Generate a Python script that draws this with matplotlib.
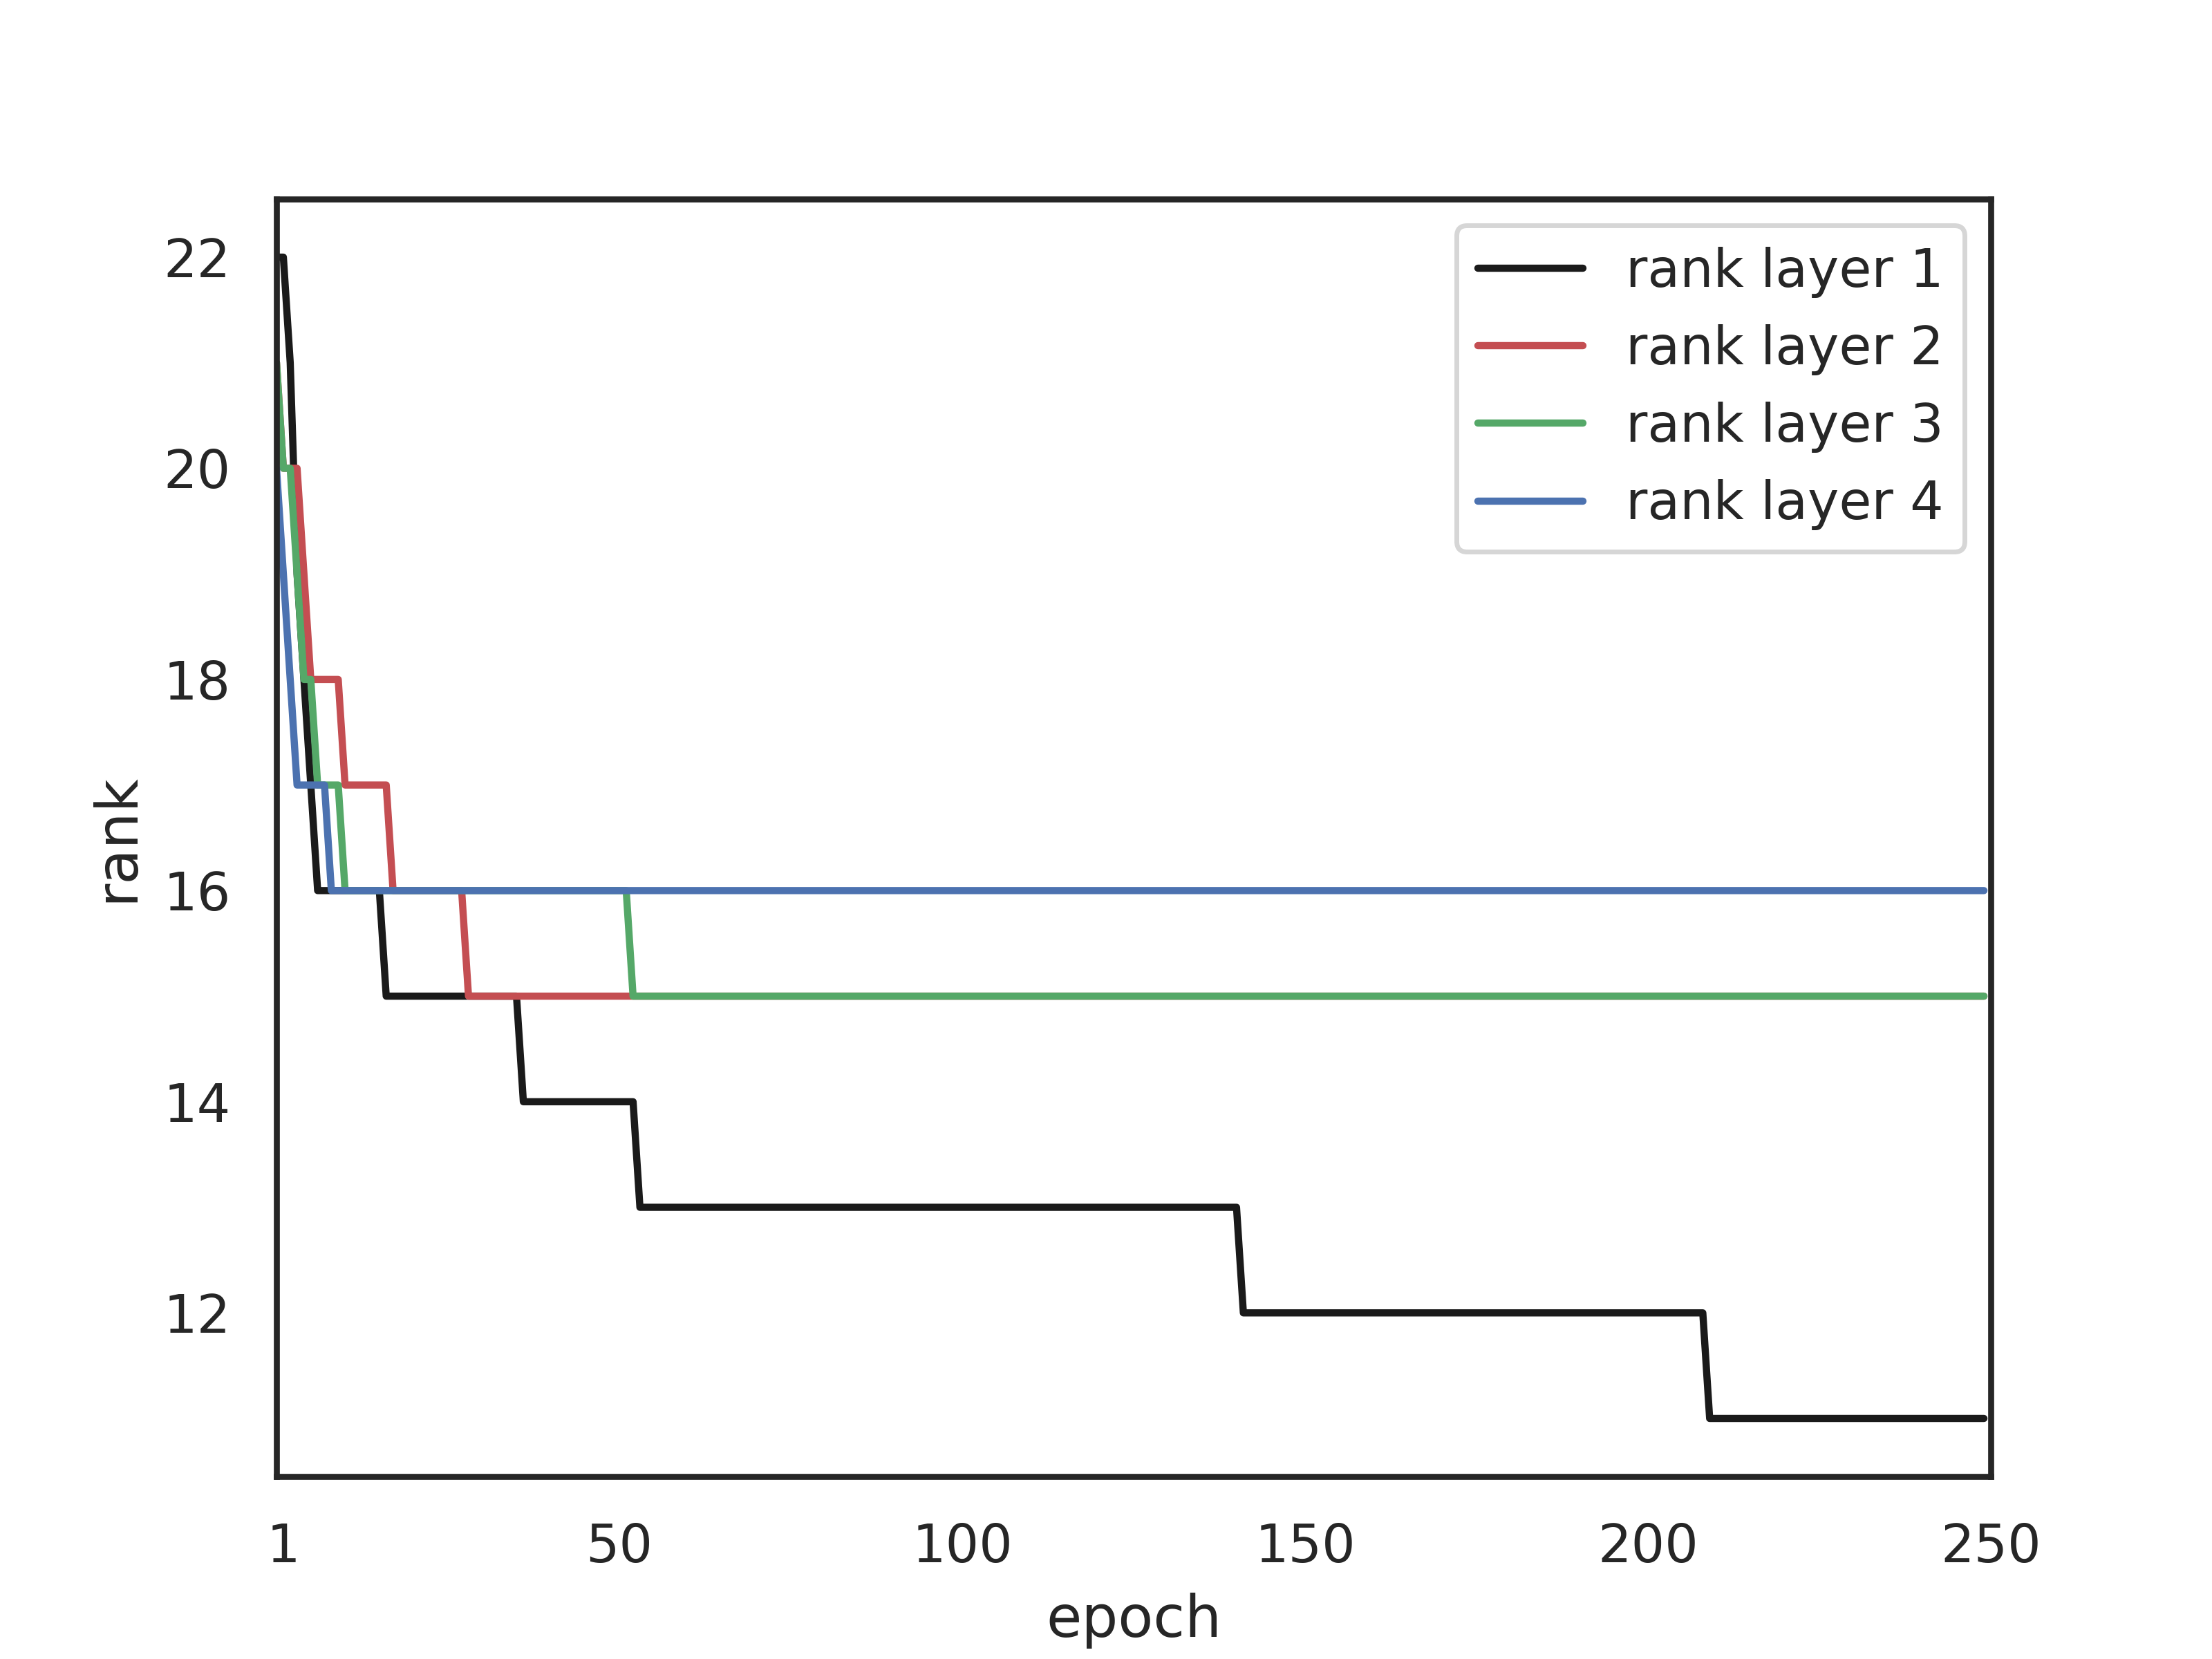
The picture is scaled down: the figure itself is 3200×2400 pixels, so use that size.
import numpy as np
import matplotlib
matplotlib.use("Agg")
import matplotlib.pyplot as plt
import seaborn as sns

# === Data: rank per epoch, stored as (value, run length) steps ===
n_epochs = 250

black_vals = [22, 21, 19, 18, 17, 16, 15, 14, 13, 12, 11]
black_runs = [2, 1, 1, 1, 1, 10, 20, 17, 88, 68, 41]

red_vals = [21, 20, 19, 18, 17, 16, 15]
red_runs = [1, 3, 1, 5, 7, 11, 222]

green_vals = [21, 20, 19, 18, 17, 16, 15]
green_runs = [1, 2, 1, 2, 4, 42, 198]

blue_vals = [20, 19, 18, 17, 16]
blue_runs = [1, 1, 1, 5, 242]

labels = ["rank layer 1", "rank layer 2", "rank layer 3", "rank layer 4"]
colors = ["k", "r", "g", "b"]
tick_pos = [1, 50, 100, 150, 200, 250]

sns.set_theme(style="white")

series = [
    np.repeat(black_vals, black_runs),
    np.repeat(red_vals, red_runs),
    np.repeat(green_vals, green_runs),
    np.repeat(blue_vals, blue_runs),
]
epochs = np.arange(n_epochs)

fig = plt.figure(figsize=(6.4, 4.8))
for ranks, c, lab in zip(series, colors, labels):
    plt.plot(epochs, ranks, color=c, label=lab)

plt.xlim(0, n_epochs)
plt.xticks(tick_pos)
plt.xlabel("epoch")
plt.ylabel("rank")
plt.legend(loc="upper right")

plt.savefig("out.png", dpi=500)
